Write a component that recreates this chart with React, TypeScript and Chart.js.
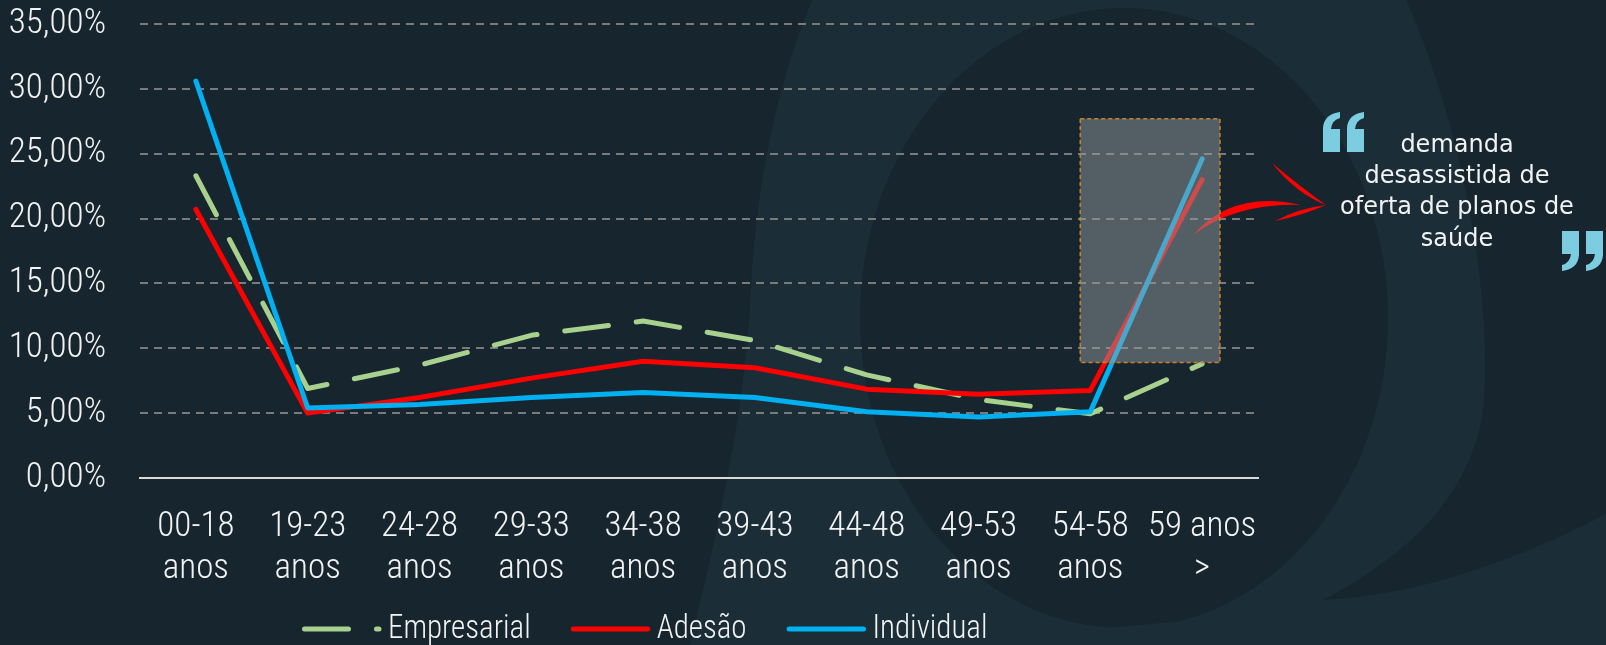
import React, { useEffect, useRef } from "react";
import { Chart, registerables } from "chart.js";

Chart.register(...registerables);

// ---------- data ----------
const ageGroups: string[][] = [
  ["00-18", "anos"],
  ["19-23", "anos"],
  ["24-28", "anos"],
  ["29-33", "anos"],
  ["34-38", "anos"],
  ["39-43", "anos"],
  ["44-48", "anos"],
  ["49-53", "anos"],
  ["54-58", "anos"],
  ["59 anos", ">"],
];
const seriesNames = ["Empresarial", "Adesão", "Individual"];
const empresarial = [23.3, 6.9, 8.7, 11.0, 12.1, 10.6, 7.95, 6.05, 4.95, 8.8];
const adesao = [20.7, 5.0, 6.2, 7.7, 9.0, 8.5, 6.85, 6.45, 6.75, 23.0];
const individual = [30.6, 5.4, 5.67, 6.2, 6.6, 6.2, 5.1, 4.7, 5.1, 24.6];
const yMin = 0;
const yMax = 35;
const yStep = 5;
const highlightIndexFrom = 7.91;
const highlightIndexTo = 9.16;
const highlightValueFrom = 8.9;
const highlightValueTo = 27.7;
const calloutLines = ["demanda", "desassistida de", "oferta de planos de", "saúde"];

// ---------- styles ----------
const BG = "#16252e";
const BG_LIGHT = "#1b2e38";
const TEXT = "#f2f2f2";
const GREEN = "#a9d18e";
const RED = "#ff0000";
const BLUE = "#00b0f0";
const NARROW = '"Roboto Condensed", "DejaVu Sans Condensed", sans-serif';
const NARROW_WEIGHT = "300";
const GREEN_DASH = [44, 28];

const bgPlugin = {
  id: "bgPlugin",
  beforeDraw(chart: any) {
    const ctx = chart.ctx as CanvasRenderingContext2D;
    const w = chart.width;
    const h = chart.height;
    ctx.save();
    ctx.fillStyle = BG;
    ctx.fillRect(0, 0, w, h);
    ctx.fillStyle = BG_LIGHT;
    ctx.beginPath();
    ctx.moveTo(812, 0);
    ctx.bezierCurveTo(775, 90, 756, 190, 751, 288);
    ctx.bezierCurveTo(745, 420, 715, 540, 690, 645);
    ctx.lineTo(1606, 645);
    ctx.lineTo(1606, 514);
    ctx.bezierCurveTo(1520, 560, 1420, 595, 1323, 600);
    ctx.bezierCurveTo(1400, 560, 1470, 500, 1483, 411);
    ctx.bezierCurveTo(1495, 300, 1460, 120, 1406, 0);
    ctx.closePath();
    ctx.fill();
    ctx.fillStyle = BG;
    ctx.beginPath();
    ctx.ellipse(1124, 318, 264, 310, 0, 0, Math.PI * 2);
    ctx.fill();
    ctx.fillStyle = BG_LIGHT;
    ctx.beginPath();
    ctx.moveTo(1606, 514);
    ctx.bezierCurveTo(1500, 570, 1380, 605, 1250, 615);
    ctx.bezierCurveTo(1150, 625, 1060, 630, 980, 645);
    ctx.lineTo(1606, 645);
    ctx.closePath();
    ctx.fill();
    ctx.restore();
  },
};

function taperedStroke(ctx: CanvasRenderingContext2D, pts: number[][], width: number) {
  const [a, c, b] = pts;
  const dx = b[0] - a[0];
  const dy = b[1] - a[1];
  const len = Math.hypot(dx, dy) || 1;
  const nx = -dy / len;
  const ny = dx / len;
  ctx.beginPath();
  ctx.moveTo(a[0], a[1]);
  ctx.quadraticCurveTo(c[0] + nx * width, c[1] + ny * width, b[0], b[1]);
  ctx.quadraticCurveTo(c[0] - nx * width, c[1] - ny * width, a[0], a[1]);
  ctx.closePath();
  ctx.fill();
}

function drawQuoteGlyph(ctx: CanvasRenderingContext2D, x: number, y: number, flip: boolean) {
  ctx.save();
  ctx.translate(x, y);
  if (flip) {
    ctx.translate(17, 40);
    ctx.rotate(Math.PI);
  }
  ctx.beginPath();
  ctx.moveTo(0, 40);
  ctx.lineTo(0, 16);
  ctx.quadraticCurveTo(1, 2, 17, 0);
  ctx.lineTo(17, 6);
  ctx.quadraticCurveTo(9, 8, 8, 17);
  ctx.lineTo(17, 17);
  ctx.lineTo(17, 40);
  ctx.closePath();
  ctx.fill();
  ctx.restore();
}

const overlayPlugin = {
  id: "overlayPlugin",
  afterDatasetsDraw(chart: any) {
    const ctx = chart.ctx as CanvasRenderingContext2D;
    const xs = chart.scales.x;
    const ys = chart.scales.y;
    ctx.save();
    ctx.fillStyle = RED;
    taperedStroke(ctx, [[1193, 235], [1235, 196], [1301, 205]], 7);
    taperedStroke(ctx, [[1272, 163], [1298, 190], [1326, 205]], 4);
    taperedStroke(ctx, [[1326, 205], [1300, 212], [1275, 221]], 4);
    const x1 = xs.getPixelForValue(highlightIndexFrom);
    const x2 = xs.getPixelForValue(highlightIndexTo);
    const y1 = ys.getPixelForValue(highlightValueTo);
    const y2 = ys.getPixelForValue(highlightValueFrom);
    ctx.fillStyle = "rgba(150,156,160,0.48)";
    ctx.fillRect(x1, y1, x2 - x1, y2 - y1);
    ctx.strokeStyle = "#c4822c";
    ctx.lineWidth = 1.5;
    ctx.setLineDash([4, 3]);
    ctx.strokeRect(x1, y1, x2 - x1, y2 - y1);
    ctx.restore();
  },
  afterDraw(chart: any) {
    const ctx = chart.ctx as CanvasRenderingContext2D;
    ctx.save();
    ctx.fillStyle = TEXT;
    ctx.font = '24px "DejaVu Sans", sans-serif';
    ctx.textAlign = "center";
    ctx.textBaseline = "alphabetic";
    const baselines = [152, 183, 214, 246];
    calloutLines.forEach((t, i) => ctx.fillText(t, 1457, baselines[i]));
    ctx.fillStyle = "#7dcde0";
    drawQuoteGlyph(ctx, 1323, 112, false);
    drawQuoteGlyph(ctx, 1347, 112, false);
    drawQuoteGlyph(ctx, 1562, 231, true);
    drawQuoteGlyph(ctx, 1586, 231, true);

    // legend
    const datasets = chart.data.datasets;
    const ly = 629;
    const squeeze = 0.91;
    let x = 302;
    ctx.font = `${NARROW_WEIGHT} 34px ${NARROW}`;
    ctx.textAlign = "left";
    ctx.textBaseline = "middle";
    datasets.forEach((ds: any) => {
      ctx.save();
      ctx.strokeStyle = ds.borderColor;
      ctx.lineWidth = 5;
      ctx.lineCap = "round";
      ctx.setLineDash(ds.borderDash || []);
      ctx.beginPath();
      ctx.moveTo(x + 2.5, ly);
      ctx.lineTo(x + 77, ly);
      ctx.stroke();
      ctx.restore();
      ctx.fillStyle = TEXT;
      const tx = x + 86;
      ctx.save();
      ctx.translate(tx, ly);
      ctx.scale(squeeze, 1);
      ctx.fillText(ds.label, 0, 0);
      ctx.restore();
      x = tx + ctx.measureText(ds.label).width * squeeze + 40;
    });
    ctx.restore();
  },
};

export default function App() {
  const ref = useRef<HTMLCanvasElement | null>(null);
  useEffect(() => {
    if (!ref.current) return;
    const lineBase = {
      borderWidth: 5,
      pointRadius: 0,
      pointHoverRadius: 0,
      tension: 0,
      fill: false,
      borderCapStyle: "round" as const,
      borderJoinStyle: "round" as const,
    };
    const chart = new Chart(ref.current, {
      type: "line",
      data: {
        labels: ageGroups,
        datasets: [
          { ...lineBase, label: seriesNames[0], data: empresarial, borderColor: GREEN, backgroundColor: GREEN, borderDash: GREEN_DASH, order: 2 },
          { ...lineBase, label: seriesNames[1], data: adesao, borderColor: RED, backgroundColor: RED, order: 1 },
          { ...lineBase, label: seriesNames[2], data: individual, borderColor: BLUE, backgroundColor: BLUE, order: 0 },
        ],
      },
      options: {
        animation: false,
        responsive: false,
        devicePixelRatio: 1,
        layout: { padding: { left: 0, right: 348, top: 24, bottom: 57 } },
        plugins: { legend: { display: false }, tooltip: { enabled: false } },
        scales: {
          x: {
            offset: true,
            grid: { display: false, drawTicks: false, offset: true },
            border: { display: true, color: "#d9d9d9", width: 2 },
            ticks: {
              color: TEXT,
              font: { family: NARROW, size: 35, weight: NARROW_WEIGHT, lineHeight: 1.2 },
              padding: 28,
              maxRotation: 0,
              autoSkip: false,
            },
            afterFit: (s: any) => {
              s.height = 110;
              s.paddingLeft = 0;
              s.paddingRight = 0;
            },
          },
          y: {
            min: yMin,
            max: yMax,
            grid: { color: "#7a7a7a", lineWidth: 2, drawTicks: false },
            border: { display: false, dash: [8, 6] },
            ticks: {
              stepSize: yStep,
              color: TEXT,
              font: { family: NARROW, size: 35, weight: NARROW_WEIGHT },
              padding: 34,
              callback: (v: any) => Number(v).toFixed(2).replace(".", ",") + "%",
            },
            afterFit: (s: any) => {
              s.width = 140;
              s.paddingTop = 0;
              s.paddingBottom = 0;
            },
          },
        },
      },
      plugins: [bgPlugin, overlayPlugin],
    });
    return () => chart.destroy();
  }, []);
  return (
    <div style={{ position: "absolute", left: 0, top: 0, width: 1606, height: 645 }}>
      <canvas ref={ref} width={1606} height={645} style={{ display: "block", width: 1606, height: 645 }} />
    </div>
  );
}
